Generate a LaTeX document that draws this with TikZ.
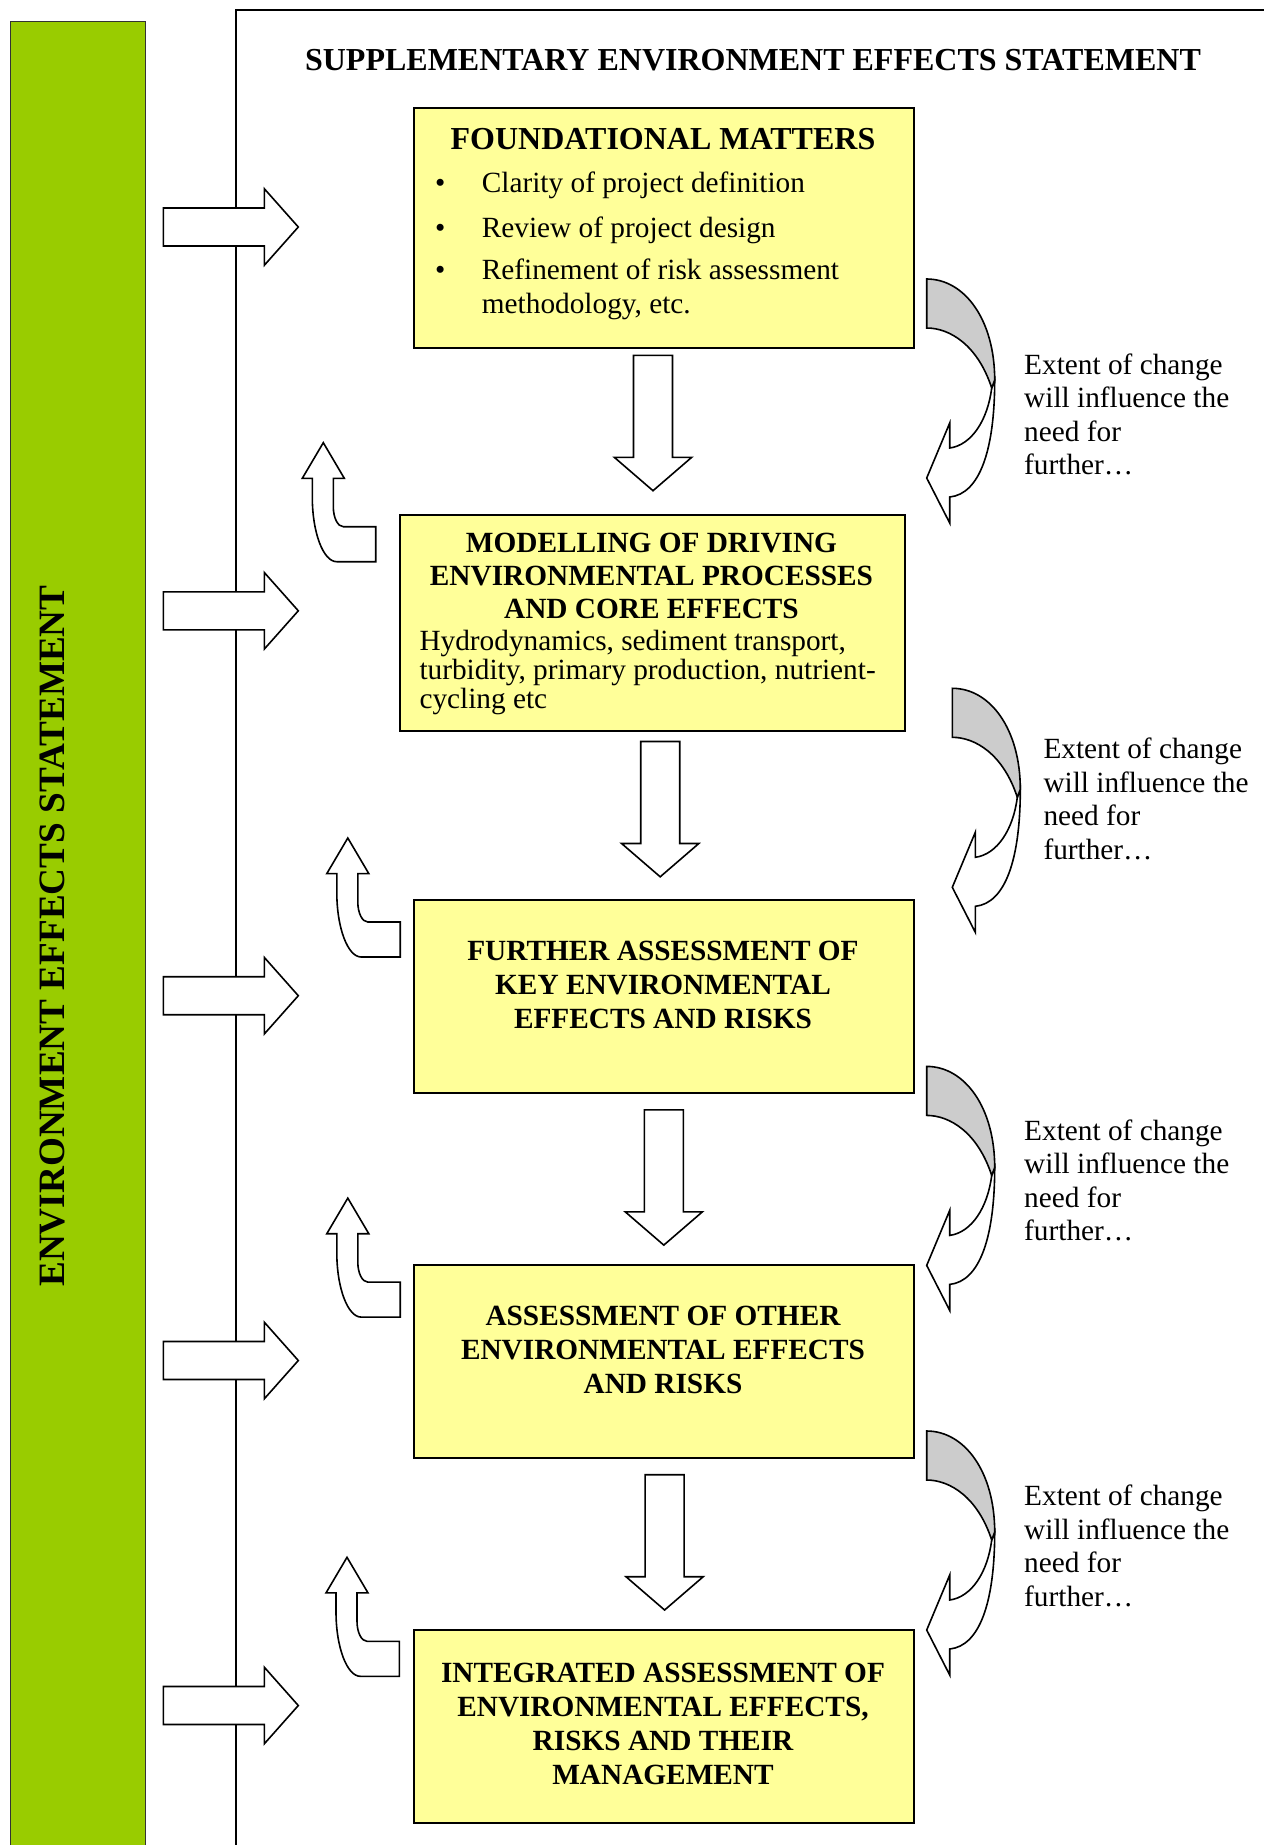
\documentclass[tikz,border=0pt]{standalone}
\usepackage{fontspec}
\setmainfont{Liberation Serif}
\definecolor{boxyellow}{HTML}{FFFF99}
\definecolor{barGreen}{HTML}{99CC00}
\definecolor{backGrey}{HTML}{CCCCCC}
\tikzset{
  box/.style={draw=black, line width=2pt, fill=boxyellow, inner sep=0pt, anchor=north west},
  hdg/.style={font=\bfseries\fontsize{29.3}{34}\selectfont, align=center, inner sep=0pt, anchor=center},
  bodytxt/.style={font=\fontsize{29.3}{29}\selectfont, align=left, inner sep=0pt, anchor=base west},
  itemtxt/.style={font=\fontsize{29.3}{34}\selectfont, align=left, inner sep=0pt, anchor=base west},
  side/.style={font=\fontsize{29.3}{33.5}\selectfont, align=left, inner sep=0pt, anchor=base west},
  blockarrow/.style={draw=black, fill=white, line width=1.6pt, line join=miter},
  rightarr/.pic={\path[blockarrow] (0,-19) -- (101,-19) -- (101,-38.3) -- (135,0) -- (101,38.3) -- (101,19) -- (0,19) -- cycle;},
  downarr/.pic={\path[blockarrow] (-19.5,0) -- (19.5,0) -- (19.5,102) -- (38.6,102) -- (0,135.3) -- (-38.6,102) -- (-19.5,102) -- cycle;},
  uparr/.pic={\path[blockarrow] (0,0) -- (21,35.6) -- (10,35.6) -- (10,64) .. controls (10,75) and (14.5,84) .. (20,84) -- (52.4,84) -- (52.4,119) -- (13.4,119) .. controls (0,119) and (-11,90) .. (-11,54.3) -- (-11,35.6) -- (-21,35.6) -- cycle;},
  curvarr/.pic={
    \path[blockarrow] (68,101) .. controls (68,171) and (53,215) .. (23,218) -- (23,244) -- (0,199) -- (23,144) -- (23,169) .. controls (45,166) and (61,141) .. (65,109) -- cycle;
    \path[blockarrow, fill=backGrey] (0,0) .. controls (38,0) and (68,41) .. (68,101) -- (65,109) .. controls (51,66) and (23,49) .. (0,49) -- cycle;
  }
}
\begin{document}
\begin{tikzpicture}[x=1pt,y=-1pt]
\useasboundingbox (0,0) rectangle (1264,1845);
% green side bar
\node[draw=black!80, line width=1.2pt, fill=barGreen, inner sep=0pt, anchor=north west,
      minimum width=134.5pt, minimum height=1830pt] (bar) at (10,20.5) {};
\node[font=\bfseries\fontsize{37.2}{40}\selectfont, rotate=90, inner sep=0pt, anchor=center]
      (bartext) at (52.5,936) {ENVIRONMENT EFFECTS STATEMENT};
% frame of the supplementary statement
\coordinate (frameBL) at (235.5,1845);
\coordinate (frameTL) at (235.5,9.5);
\coordinate (frameTR) at (1264,9.5);
\draw[line width=2pt] (frameBL) -- (frameTL) -- (frameTR);
\node[font=\bfseries\fontsize{32}{36}\selectfont, inner sep=0pt, anchor=base]
      (title) at (753,70) {SUPPLEMENTARY ENVIRONMENT EFFECTS STATEMENT};
% block arrows from the side bar
\pic (ra1) at (163.3,227) {rightarr};
\pic (ra2) at (163.3,610.8) {rightarr};
\pic (ra3) at (163.3,995.7) {rightarr};
\pic (ra4) at (163.3,1360.5) {rightarr};
\pic (ra5) at (163.3,1705.5) {rightarr};
% boxes
\node[box, minimum width=500pt, minimum height=240pt] (b1) at (413,107) {};
\node[box, minimum width=505pt, minimum height=216pt] (b2) at (399,514) {};
\node[box, minimum width=500pt, minimum height=193pt] (b3) at (413,899) {};
\node[box, minimum width=500pt, minimum height=193pt] (b4) at (413,1264) {};
\node[box, minimum width=500pt, minimum height=193pt] (b5) at (413,1629) {};
% down arrows
\pic (da1) at (653,355.4) {downarr};
\pic (da2) at (660.2,741.5) {downarr};
\pic (da3) at (663.8,1109.8) {downarr};
\pic (da4) at (664.6,1474.7) {downarr};
% up-turn arrows
\pic (ua1) at (323.3,442.7) {uparr};
\pic (ua2) at (347.8,838) {uparr};
\pic (ua3) at (347.8,1198.1) {uparr};
\pic (ua4) at (347,1557.3) {uparr};
% curved arrows
\pic (ca1) at (926.7,279) {curvarr};
\pic (ca2) at (952.3,688.3) {curvarr};
\pic (ca3) at (926.7,1066.4) {curvarr};
\pic (ca4) at (926.7,1431) {curvarr};
% box 1 text
\node[font=\bfseries\fontsize{32}{36}\selectfont, inner sep=0pt, anchor=base]
      (h1) at (663,149.3) {FOUNDATIONAL MATTERS};
\node[itemtxt] (i1) at (481.7,192.4) {\llap{\textbullet\hspace{36.5pt}}Clarity of project definition};
\node[itemtxt] (i2) at (481.7,237) {\llap{\textbullet\hspace{36.5pt}}Review of project design};
\node[itemtxt] (i3) at (481.7,313.5) {\llap{\textbullet\hspace{36.5pt}}Refinement of risk assessment\\methodology, etc.};
% box 2 text
\node[hdg, font=\bfseries\fontsize{29.3}{33}\selectfont] (h2) at (651.5,575.5)
      {MODELLING OF DRIVING\\ENVIRONMENTAL PROCESSES\\AND CORE EFFECTS};
\node[bodytxt] (t2) at (419.3,708)
      {Hydrodynamics, sediment transport,\\turbidity, primary production, nutrient-\\cycling etc};
% box 3-5 text
\node[hdg] (h3) at (663,985.1) {FURTHER ASSESSMENT OF\\KEY ENVIRONMENTAL\\EFFECTS AND RISKS};
\node[hdg] (h4) at (663,1350) {ASSESSMENT OF OTHER\\ENVIRONMENTAL EFFECTS\\AND RISKS};
\node[hdg] (h5) at (663,1724) {INTEGRATED ASSESSMENT OF\\ENVIRONMENTAL EFFECTS,\\RISKS AND THEIR\\MANAGEMENT};
% side notes
\node[side] (s1) at (1024,474.5) {Extent of change\\will influence the\\need for\\further…};
\node[side] (s2) at (1043.3,859.2) {Extent of change\\will influence the\\need for\\further…};
\node[side] (s3) at (1024,1240.5) {Extent of change\\will influence the\\need for\\further…};
\node[side] (s4) at (1024,1606.2) {Extent of change\\will influence the\\need for\\further…};
\end{tikzpicture}
\end{document}
